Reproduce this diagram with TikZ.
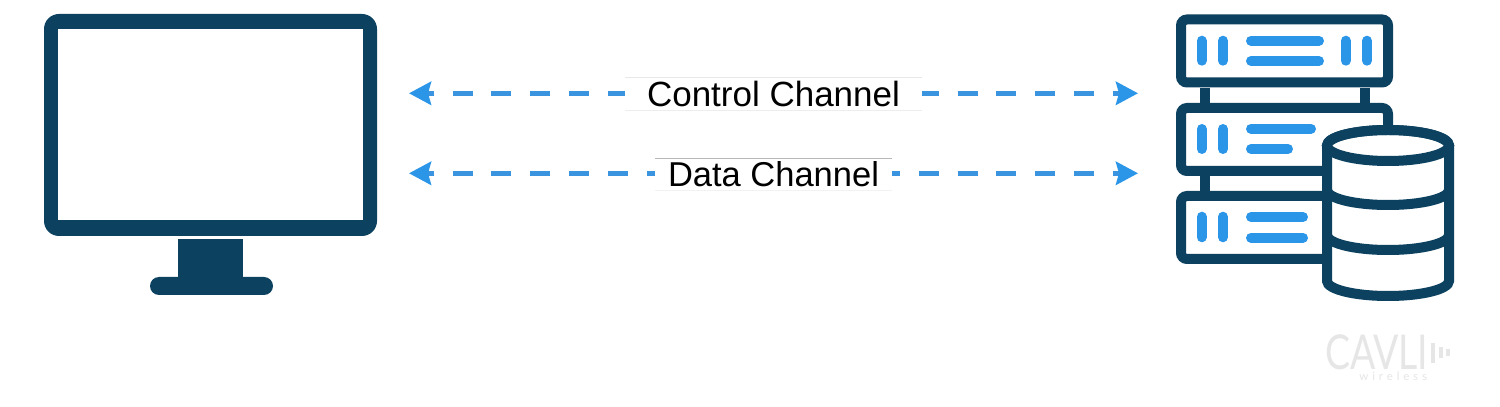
\documentclass[tikz,border=0pt]{standalone}
\usepackage{fontspec}
\setmainfont{Liberation Sans}
\newfontfamily\logofont{Lato}
\usetikzlibrary{arrows.meta}
\definecolor{darkColor}{RGB}{12,65,96}
\definecolor{blueColor}{RGB}{43,150,232}
\definecolor{dashColor}{RGB}{58,148,224}
\definecolor{logoColor}{RGB}{230,230,230}
\tikzset{
  chanline/.style={draw=dashColor,line width=5.3pt,dash pattern=on 20pt off 18.85pt,dash phase=13pt,
    >={Stealth[length=22pt,width=23pt,inset=3pt,color=blueColor]},<->},
  chanlabel/.style={fill=white,inner sep=0pt,outer sep=0pt,font=\fontsize{35}{40}\selectfont},
  srvbox/.style={draw=darkColor,line width=10pt,rounded corners=6pt,fill=white},
  srvpost/.style={draw=darkColor,line width=10pt},
  srvbar/.style={draw=blueColor,line width=10pt,line cap=round},
  logobar/.style={draw=logoColor,line width=3.5pt}
}
\begin{document}
\begin{tikzpicture}[x=1pt,y=1pt]
\path[use as bounding box,fill=white] (0,0) rectangle (1500,407);

\path[fill=darkColor,rounded corners=15pt] (44,171) rectangle (377,393);
\path[fill=white] (58.3,187) rectangle (363,378);
\path[fill=darkColor] (178,125) rectangle (243,168);
\path[fill=darkColor,rounded corners=9pt] (150,112) rectangle (273,130);

\path[srvpost] (1205,319) -- (1205,304);
\path[srvpost] (1365,319) -- (1365,304);
\path[srvpost] (1205,231) -- (1205,216);

\path[srvbox] (1181,324.5) rectangle (1388,387.5);
\path[srvbox] (1181,236) rectangle (1388,299);
\path[srvbox] (1181,148) rectangle (1388,211);

\path[srvbar] (1201.7,366.3) -- (1201.7,346.3);
\path[srvbar] (1223,366.3) -- (1223,346.3);
\path[srvbar] (1345.7,366.3) -- (1345.7,346.3);
\path[srvbar] (1367,366.3) -- (1367,346.3);
\path[srvbar] (1251,366.3) -- (1319,366.3);
\path[srvbar] (1251,346) -- (1319,346);

\path[srvbar] (1201.7,278) -- (1201.7,258);
\path[srvbar] (1223,278) -- (1223,258);
\path[srvbar] (1251,278.3) -- (1311,278.3);
\path[srvbar] (1251,258) -- (1288,258);

\path[srvbar] (1201.7,190.3) -- (1201.7,169.7);
\path[srvbar] (1223,190.3) -- (1223,169.7);
\path[srvbar] (1251,190) -- (1303,190);
\path[srvbar] (1251,169.3) -- (1303,169.3);

\path[srvpost,fill=white] (1327,261.5) -- (1327,126) arc (180:360:61 and 15) -- (1449,261.5) arc (0:180:61 and 15.5) -- cycle;
\path[srvpost] (1388,261.5) ellipse (61 and 15.5);
\path[srvpost] (1327,217) arc (180:360:61 and 15);
\path[srvpost] (1327,172) arc (180:360:61 and 15);

\coordinate (ctrlL) at (409,313.7);
\coordinate (ctrlR) at (1138,313.7);
\coordinate (dataL) at (409,233.7);
\coordinate (dataR) at (1138,233.7);

\path[chanline] (ctrlL) -- (ctrlR);
\path[chanline] (dataL) -- (dataR);

\node[chanlabel,minimum width=297pt,minimum height=33pt] (ctrlchan) at (773.5,313.5) {Control Channel};
\node[chanlabel,minimum width=237pt,minimum height=32pt,font=\fontsize{34.5}{40}\selectfont] (datachan) at (773.5,233) {Data Channel};

\path[draw=black!9,line width=0.7pt] (ctrlchan.north west) -- (ctrlchan.north east);
\path[draw=black!7,line width=0.7pt] (ctrlchan.south west) -- (ctrlchan.south east);
\path[draw=black!28,line width=0.7pt] (datachan.north west) -- (datachan.north east);
\path[draw=black!5,line width=0.7pt] (datachan.south west) -- (datachan.south east);

\node[text=logoColor,anchor=base west,inner sep=0pt,outer sep=0pt,xscale=0.78,font=\logofont\fontsize{48}{48}\selectfont] (logoname) at (1325,37) {CAVLI};
\node[text=logoColor,anchor=base east,inner sep=0pt,outer sep=0pt,font=\logofont\fontsize{11.5}{12}\selectfont] (logosub) at (1427,26) {w\,\,i\,\,r\,\,e\,\,l\,\,e\,\,s\,\,s};
\path[logobar] (1433,64) -- (1433,44);
\path[logobar] (1441,60) -- (1441,49);
\path[logobar] (1448,58) -- (1448,51);
\end{tikzpicture}
\end{document}
